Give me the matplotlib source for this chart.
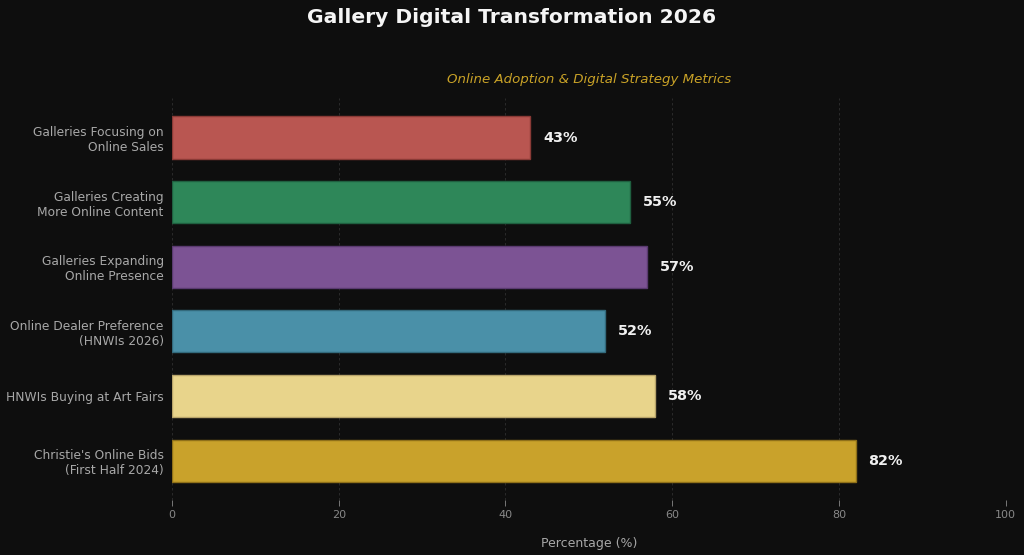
import matplotlib
matplotlib.use("Agg")
import matplotlib.pyplot as plt

categories = [
    "Galleries Focusing on\nOnline Sales",
    "Galleries Creating\nMore Online Content",
    "Galleries Expanding\nOnline Presence",
    "Online Dealer Preference\n(HNWIs 2026)",
    "HNWIs Buying at Art Fairs",
    "Christie's Online Bids\n(First Half 2024)",
]
values = [43, 55, 57, 52, 58, 82]
colors = ["#b95651", "#2e8759", "#7c5394", "#4a90a8", "#e8d48b", "#c9a22b"]
edges = ["#8a3a36", "#1f6040", "#5a3a70", "#336a7c", "#b8a46a", "#8f7019"]

bg = "#0e0e0e"
fig = plt.figure(figsize=(10.24, 5.55), dpi=100, facecolor=bg)
ax = fig.add_axes([0.168, 0.099, 0.814, 0.724], facecolor=bg)

y = range(len(categories))
ax.barh(y, values, height=0.65, color=colors, edgecolor=edges, linewidth=1.0, zorder=3)
ax.invert_yaxis()
ax.set_yticks(list(y))
ax.set_yticklabels(categories, color="#a8a8a8", fontsize=8.8)
ax.set_xlim(0, 100)
ax.set_xticks([0, 20, 40, 60, 80, 100])
ax.tick_params(axis="x", colors="#888888", labelsize=8, length=4, width=0.6)
ax.tick_params(axis="y", length=0, pad=6)
ax.xaxis.grid(True, linestyle=(0, (3, 3)), color="#444444", alpha=0.6, linewidth=0.6, zorder=0)
for s in ax.spines.values():
    s.set_visible(False)

for i, v in enumerate(values):
    ax.text(v + 1.5, i, f"{v}%", va="center", ha="left", color="#f0f0f0",
            fontsize=10.4, fontweight="bold", zorder=4)

ax.set_xlabel("Percentage (%)", color="#a8a8a8", fontsize=9, labelpad=12)
ax.set_title("Online Adoption & Digital Strategy Metrics", color="#c9a227",
             fontsize=9.6, style="italic", pad=11)
fig.suptitle("Gallery Digital Transformation 2026", color="#f5f5f5",
             fontsize=14.6, fontweight="bold", y=0.985)

fig.savefig("out.png", dpi=100, facecolor=bg)
